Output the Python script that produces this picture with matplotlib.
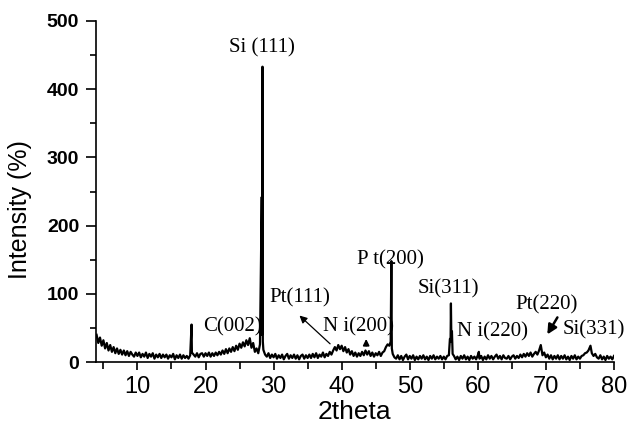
import matplotlib
matplotlib.use('Agg')
import matplotlib.pyplot as plt
import numpy as np

# XRD pattern read off the picture: baseline sampled every 0.25 deg (2theta),
# written as runs that start at seg_starts, plus the sharp peaks on their own
step = 0.25
seg_starts = [4.0, 10.25, 18.0, 28.5, 36.25, 43.5, 47.5, 56.5, 62.25, 69.5, 76.75]
seg_vals = [
    [40, 28, 36, 24, 32, 20, 28, 17, 25, 15, 22, 13, 20, 12, 18, 11, 17, 10, 16, 9, 15, 11, 8, 14, 9],
    [14, 7, 12, 8, 14, 6, 12, 8, 13, 5, 11, 7, 12, 6, 11, 7, 11, 5, 10, 7, 12, 4, 10, 6, 11, 5, 10, 6, 9, 5, 10],
    [14, 11, 8, 13, 7, 12, 13, 8, 13, 9, 14, 8, 13, 9, 14, 10, 15, 11, 17, 12, 19, 13, 20, 15, 22,
     16, 24, 18, 27, 21, 29, 23, 32, 25, 35, 21, 28, 15, 20, 13, 26],
    [18, 11, 8, 13, 6, 11, 7, 12, 5, 10, 6, 11, 4, 9, 12, 5, 10, 6, 11, 5, 10, 4, 9, 11, 5, 10, 6, 11, 6, 12, 7],
    [13, 6, 11, 8, 14, 7, 12, 9, 15, 11, 17, 22, 17, 25, 19, 24, 16, 22, 14, 19, 11, 16, 9, 14, 8, 13, 9, 15, 10],
    [17, 11, 16, 9, 14, 8, 13, 10, 15, 9, 14, 16, 22, 26, 24],
    [12, 7, 5, 10, 4, 9, 3, 8, 11, 4, 9, 5, 10, 3, 8, 4, 9, 5, 10, 4, 8, 3, 9, 5, 10, 4, 8, 5, 9, 4, 8, 4, 9, 10],
    [9, 4, 8, 3, 9, 5, 10, 4, 8, 3, 9, 5, 8, 4, 10, 5, 9, 3, 8, 4, 10, 5, 9],
    [4, 8, 11, 5, 9, 4, 10, 6, 5, 9, 4, 8, 10, 5, 9, 6, 11, 7, 12, 8, 13, 9, 14, 8, 12, 15, 11, 17],
    [10, 14, 7, 11, 5, 10, 4, 9, 5, 10, 4, 9, 5, 10, 4, 8, 3, 9, 5, 10, 4, 8, 5, 9, 10, 13, 14, 17],
    [13, 9, 12, 7, 5, 10, 4, 8, 3, 9, 5, 8, 4, 9],
]
peak_x = [17.95, 28.26, 28.3, 28.34, 28.37, 28.42, 47.2, 47.3, 47.37,
          55.9, 56.0, 56.05, 56.12, 56.2, 56.3, 60.15, 69.25, 76.55]
peak_y = [55, 242, 40, 242, 433, 30, 30, 148, 20,
          34, 34, 86, 30, 45, 12, 15, 25, 24]

# peak labels (serif, as in the original)
labels = ['Si (111)', 'C(002)', 'Pt(111)', 'N i(200)', 'P t(200)', 'Si(311)', 'N i(220)', 'Pt(220)', 'Si(331)']
label_pos = [(28.35, 460), (23.9, 51), (33.8, 94), (42.5, 52), (47.2, 150),
             (55.7, 108), (62.2, 44.5), (70.1, 84), (77.1, 47)]

xs, ys = [], []
for s, v in zip(seg_starts, seg_vals):
    xs += [s + step * i for i in range(len(v))]
    ys += v
xs += peak_x
ys += peak_y
xs = np.array(xs)
ys = np.array(ys)
order = np.argsort(xs)
xs, ys = xs[order], ys[order]

plt.rcParams['font.family'] = ['Liberation Sans', 'DejaVu Sans']

fig = plt.figure(figsize=(6.31, 4.28), dpi=100)
ax = fig.add_axes([0.152, 0.154, 0.821, 0.797])

ax.plot(xs, ys, color='black', lw=1.6)

ax.set_xlim(3.9, 80)
ax.set_ylim(0, 500)
ax.spines['top'].set_visible(False)
ax.spines['right'].set_visible(False)
ax.spines['left'].set_linewidth(1.2)
ax.spines['bottom'].set_linewidth(1.2)

ax.set_xticks(np.arange(10, 81, 10))
ax.set_xticks(np.arange(5, 81, 5), minor=True)
ax.set_yticks(np.arange(0, 501, 100))
ax.set_yticks(np.arange(50, 501, 100), minor=True)
ax.tick_params(axis='both', which='both', direction='out', width=1.2)
ax.tick_params(axis='x', which='major', length=6, labelsize=17, pad=4)
ax.tick_params(axis='x', which='minor', length=5)
ax.tick_params(axis='y', which='major', length=7, labelsize=14, pad=5)
ax.tick_params(axis='y', which='minor', length=4)
for t in ax.get_yticklabels():
    t.set_fontweight('bold')

ax.set_xlabel('2theta', fontsize=19)
ax.set_ylabel('Intensity (%)', fontsize=18)
ax.xaxis.set_label_coords(0.5, -0.147)
ax.xaxis.label.set_va('center')
ax.yaxis.set_label_coords(-0.147, 0.446)
ax.yaxis.label.set_va('center')

serif = ['Liberation Serif', 'DejaVu Serif']
for txt, (lx, ly) in zip(labels, label_pos):
    ax.text(lx, ly, txt, family=serif, fontsize=15, ha='center', va='center')

# arrows
ax.annotate('', xy=(33.5, 71), xytext=(38.6, 24),
            arrowprops=dict(arrowstyle='-|>', color='black', lw=0.9, mutation_scale=11))
ax.annotate('', xy=(43.6, 38), xytext=(43.6, 20),
            arrowprops=dict(arrowstyle='-|>', color='black', lw=1.2, mutation_scale=9))
ax.annotate('', xy=(70.0, 37), xytext=(71.9, 69),
            arrowprops=dict(arrowstyle='-|>', color='black', lw=1.8, mutation_scale=14))

fig.savefig('out.png', dpi=100)
